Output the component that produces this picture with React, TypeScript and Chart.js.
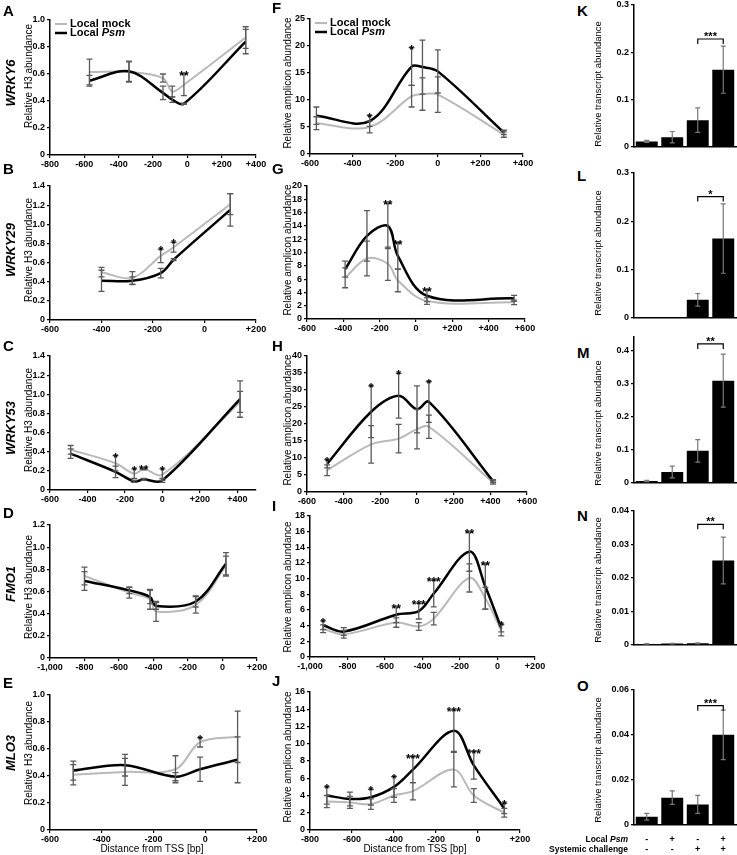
import React, { useEffect, useRef } from 'react';
import { Chart, registerables } from 'chart.js';
Chart.register(...registerables);

const FONT = '"Liberation Sans", Arial, Helvetica, sans-serif';
const GRAY = 'rgb(185,185,185)';
const ERRC = 'rgb(90,90,90)';

// ---------- tick arrays ----------
const X_A = [-800, -600, -400, -200, 0, 200, 400];
const X_B = [-600, -400, -200, 0, 200];
const X_C = [-600, -400, -200, 0, 200, 400];
const X_D = [-1000, -800, -600, -400, -200, 0, 200];
const X_E = [-600, -400, -200, 0, 200];
const X_F = [-600, -400, -200, 0, 200, 400];
const X_GH = [-600, -400, -200, 0, 200, 400, 600];
const X_I = [-1000, -800, -600, -400, -200, 0, 200];
const X_J = [-800, -600, -400, -200, 0, 200];

const Y_10 = [0, 0.2, 0.4, 0.6, 0.8, 1.0];
const Y_12 = [0, 0.2, 0.4, 0.6, 0.8, 1.0, 1.2];
const Y_14 = [0, 0.2, 0.4, 0.6, 0.8, 1.0, 1.2, 1.4];
const Y_F = [0, 5, 10, 15, 20, 25];
const Y_G = [0, 2, 4, 6, 8, 10, 12, 14, 16, 18, 20];
const Y_H = [0, 5, 10, 15, 20, 25, 30, 35, 40];
const Y_I = [0, 2, 4, 6, 8, 10, 12, 14, 16, 18];
const Y_J = [0, 2, 4, 6, 8, 10, 12, 14, 16];
const Y_KL = [0, 0.1, 0.2, 0.3];
const Y_M = [0, 0.1, 0.2, 0.3, 0.4];
const Y_N = [0, 0.01, 0.02, 0.03, 0.04];
const Y_O = [0, 0.02, 0.04, 0.06];

// ---------- A WRKY6 H3 ----------
const A_x = [-570, -340, -142, -88, -20, 340];
const A_mock = [0.615, 0.615, 0.57, 0.47, 0.52, 0.87];
const A_mockErr = [0.095, 0.075, 0.03, 0.04, 0.08, 0.08];
const A_psm = [0.55, 0.62, 0.46, 0.41, 0.38, 0.84];
const A_psmErr = [0.04, 0.075, 0.05, 0.02, 0.005, 0.09];
const A_stars = ['', '', '', '', '**', ''];
// ---------- B WRKY29 H3 ----------
const B_x = [-400, -280, -170, -120, 100];
const B_mock = [0.5, 0.44, 0.67, 0.76, 1.21];
const B_mockErr = [0.05, 0.065, 0.07, 0.05, 0.11];
const B_psm = [0.41, 0.41, 0.49, 0.63, 1.15];
const B_psmErr = [0.11, 0.04, 0.05, 0.01, 0.17];
const B_stars = ['', '', '*', '*', ''];
// ---------- C WRKY53 H3 ----------
const C_x = [-490, -250, -150, -100, 0, 415];
const C_mock = [0.42, 0.28, 0.17, 0.22, 0.16, 0.92];
const C_mockErr = [0.045, 0.08, 0.05, 0.01, 0.06, 0.11];
const C_psm = [0.38, 0.19, 0.09, 0.11, 0.1, 0.95];
const C_psmErr = [0.05, 0.06, 0.01, 0.01, 0.02, 0.19];
const C_stars = ['', '*', '*', '**', '*', ''];
// ---------- D FMO1 H3 ----------
const D_x = [-800, -540, -420, -385, -155, 20];
const D_mock = [0.74, 0.59, 0.53, 0.42, 0.48, 0.83];
const D_mockErr = [0.08, 0.05, 0.09, 0.09, 0.075, 0.09];
const D_psm = [0.695, 0.61, 0.55, 0.47, 0.51, 0.85];
const D_psmErr = [0.085, 0.03, 0.06, 0.03, 0.05, 0.1];
const D_stars = ['', '', '', '', '', ''];
// ---------- E MLO3 H3 ----------
const E_x = [-510, -310, -115, -20, 125];
const E_mock = [0.41, 0.43, 0.45, 0.65, 0.69];
const E_mockErr = [0.075, 0.1, 0.1, 0.035, 0.19];
const E_psm = [0.44, 0.48, 0.395, 0.45, 0.52];
const E_psmErr = [0.07, 0.08, 0.03, 0.09, 0.17];
const E_stars = ['', '', '', '*', ''];
// ---------- F WRKY6 amplicon ----------
const F_x = [-570, -320, -123, -72, 0, 310];
const F_mock = [5.7, 5.0, 10.7, 11.1, 11.0, 3.6];
const F_mockErr = [1.2, 1.1, 2.0, 3.0, 3.3, 0.5];
const F_psm = [7.1, 6.1, 16.2, 16.1, 15.3, 4.0];
const F_psmErr = [1.6, 1.0, 3.5, 5.0, 4.0, 0.4];
const F_stars = ['', '*', '*', '', '', ''];
// ---------- G WRKY29 amplicon ----------
const G_x = [-390, -270, -155, -100, 60, 540];
const G_mock = [6.2, 9.1, 8.3, 5.8, 2.7, 2.5];
const G_mockErr = [1.5, 2.6, 2.5, 1.7, 0.5, 0.35];
const G_psm = [7.5, 12.5, 14.0, 9.5, 3.5, 3.1];
const G_psmErr = [1.2, 3.8, 3.4, 2.0, 0.9, 0.45];
const G_stars = ['', '', '**', '**', '**', ''];
// ---------- H WRKY53 amplicon ----------
const H_x = [-490, -250, -100, 0, 65, 415];
const H_mock = [6.4, 14.0, 15.7, 18.5, 19.2, 2.8];
const H_mockErr = [1.6, 5.5, 4.2, 5.8, 3.4, 0.5];
const H_psm = [8.3, 23.6, 28.3, 24.3, 26.5, 3.2];
const H_psmErr = [1.2, 7.6, 6.6, 6.9, 6.0, 0.4];
const H_stars = ['*', '*', '*', '', '*', ''];
// ---------- I FMO1 amplicon ----------
const I_x = [-930, -820, -540, -420, -340, -150, -65, 20];
const I_mock = [3.6, 2.9, 4.4, 3.9, 4.9, 10.1, 7.5, 3.4];
const I_mockErr = [0.5, 0.5, 0.6, 0.5, 0.8, 1.8, 1.4, 0.7];
const I_psm = [4.05, 3.25, 5.4, 5.85, 8.1, 13.45, 9.0, 3.7];
const I_psmErr = [0.55, 0.5, 1.0, 1.0, 1.7, 2.5, 2.9, 0.5];
const I_stars = ['*', '', '**', '***', '***', '**', '**', '*'];
// ---------- J MLO3 amplicon ----------
const J_x = [-720, -610, -510, -400, -310, -115, -20, 125];
const J_mock = [3.3, 3.2, 3.0, 4.0, 4.5, 7.0, 4.0, 2.0];
const J_mockErr = [0.7, 0.7, 0.6, 0.8, 1.0, 2.0, 0.8, 0.5];
const J_psm = [4.0, 3.6, 3.8, 5.0, 7.0, 11.5, 7.5, 2.5];
const J_psmErr = [1.0, 0.8, 0.9, 1.2, 1.5, 2.4, 1.6, 0.6];
const J_stars = ['*', '', '*', '*', '***', '***', '***', '*'];

// ---------- bar panels K-O ----------
const BAR_CATS = ['1', '2', '3', '4'];
const K_vals = [0.011, 0.02, 0.056, 0.163];
const K_err = [0.002, 0.012, 0.026, 0.05];
const L_vals = [0.001, 0.001, 0.037, 0.164];
const L_err = [0, 0, 0.013, 0.072];
const M_vals = [0.005, 0.032, 0.096, 0.308];
const M_err = [0.002, 0.018, 0.034, 0.08];
const N_vals = [0.0002, 0.0003, 0.0004, 0.0252];
const N_err = [0.0001, 0.0001, 0.0001, 0.007];
const O_vals = [0.0035, 0.012, 0.009, 0.04];
const O_err = [0.0015, 0.003, 0.004, 0.011];
const K_sig = '***';
const L_sig = '*';
const M_sig = '**';
const N_sig = '**';
const O_sig = '***';
const K_brk = 0.228;
const L_brk = 0.251;
const M_brk = 0.419;
const N_brk = 0.036;
const O_brk = 0.053;
const O_localPsm = ['-', '+', '-', '+'];
const O_systemic = ['-', '-', '+', '+'];

// ---------- helpers ----------
const fmtX = (v: number) => (v > 0 ? '+' + v.toLocaleString('en-US') : v.toLocaleString('en-US'));
const fmtY = (dec: number) => (v: number) => (v === 0 ? '0' : Number(v).toFixed(dec));

const YW = 44;
const PT = 8;
const XH = 15;

const extras = {
  id: 'extras',
  afterDatasetsDraw(chart: any, _a: any, o: any) {
    const ctx = chart.ctx;
    const ys = chart.scales.y;
    ctx.save();
    const tops: number[][] = [];
    (o.errs || []).forEach((errs: number[], di: number) => {
      const meta = chart.getDatasetMeta(di);
      const ds = chart.data.datasets[di];
      meta.data.forEach((el: any, i: number) => {
        const raw = ds.data[i];
        const v = typeof raw === 'number' ? raw : raw.y;
        const e = errs[i] || 0;
        const yt = ys.getPixelForValue(v + e);
        tops[i] = tops[i] || [];
        tops[i].push(yt);
        if (!e) return;
        const yb = ys.getPixelForValue(Math.max(v - e, 0));
        const x = el.x;
        const cw = o.cap || 3;
        ctx.strokeStyle = o.errColor || ERRC;
        ctx.lineWidth = o.errWidth || 1.3;
        ctx.beginPath();
        ctx.moveTo(x, yt);
        ctx.lineTo(x, yb);
        ctx.moveTo(x - cw, yt);
        ctx.lineTo(x + cw, yt);
        ctx.moveTo(x - cw, yb);
        ctx.lineTo(x + cw, yb);
        ctx.stroke();
      });
    });
    if (o.stars) {
      const meta = chart.getDatasetMeta(0);
      ctx.fillStyle = '#000';
      ctx.font = 'bold 12px ' + FONT;
      ctx.textAlign = 'center';
      ctx.textBaseline = 'alphabetic';
      o.stars.forEach((s: string, i: number) => {
        if (!s) return;
        const x = meta.data[i].x;
        const t = Math.min(...(tops[i] || [ys.bottom]));
        ctx.fillText(s, x, t + 6);
      });
    }
    if (o.bracket) {
      const meta = chart.getDatasetMeta(0);
      const x1 = meta.data[o.bracket.from].x;
      const x2 = meta.data[o.bracket.to].x;
      const y = ys.getPixelForValue(o.bracket.value);
      ctx.strokeStyle = '#000';
      ctx.lineWidth = 1.2;
      ctx.beginPath();
      ctx.moveTo(x1, y + 5);
      ctx.lineTo(x1, y);
      ctx.lineTo(x2, y);
      ctx.lineTo(x2, y + 5);
      ctx.stroke();
      ctx.fillStyle = '#000';
      ctx.font = 'bold 11px ' + FONT;
      ctx.textAlign = 'center';
      ctx.textBaseline = 'alphabetic';
      ctx.fillText(o.bracket.text, (x1 + x2) / 2, y + 1);
    }
    if (o.legend) {
      const { left, top } = chart.chartArea;
      const rows = [
        { c: GRAY, w: 2, a: 'Local ', b: 'mock', it: false, dy: 4 },
        { c: '#000', w: 2.5, a: 'Local ', b: 'Psm', it: true, dy: 13 },
      ];
      rows.forEach((r) => {
        ctx.strokeStyle = r.c;
        ctx.lineWidth = r.w;
        ctx.beginPath();
        ctx.moveTo(left + 5, top + r.dy);
        ctx.lineTo(left + 17, top + r.dy);
        ctx.stroke();
        ctx.fillStyle = '#000';
        ctx.textAlign = 'left';
        ctx.textBaseline = 'middle';
        ctx.font = 'bold 11px ' + FONT;
        ctx.fillText(r.a, left + 20, top + r.dy);
        const w = ctx.measureText(r.a).width;
        ctx.font = (r.it ? 'italic ' : '') + 'bold 11px ' + FONT;
        ctx.fillText(r.b, left + 20 + w, top + r.dy);
      });
    }
    ctx.restore();
  },
};

const tickFont = { family: FONT, size: 9, weight: 'bold' as const };
const axisGrid = { display: true, drawOnChartArea: false, drawTicks: true, tickLength: 3, color: '#000', lineWidth: 1.2 };
const axisBorder = { display: true, color: '#000', width: 1.5 };

type LineSpec = {
  L: number; T: number; R: number; B: number;
  xMin: number; xMax: number; xTicks: number[];
  yMax: number; yTicks: number[]; yDec: number;
  x: number[]; mock: number[]; mockErr: number[]; psm: number[]; psmErr: number[]; stars: string[];
  legend?: boolean;
};

function LinePanel({ s }: { s: LineSpec }) {
  const ref = useRef<HTMLCanvasElement>(null);
  const PR = 22;
  const W = s.R - s.L + YW + PR;
  const H = s.B - s.T + PT + XH;
  useEffect(() => {
    const chart = new Chart(ref.current as HTMLCanvasElement, {
      type: 'line',
      data: {
        datasets: [
          { label: 'Local mock', data: s.x.map((x, i) => ({ x, y: s.mock[i] })), borderColor: GRAY, borderWidth: 2, pointRadius: 0, tension: 0.35, fill: false, order: 2 },
          { label: 'Local Psm', data: s.x.map((x, i) => ({ x, y: s.psm[i] })), borderColor: '#000', borderWidth: 2.5, pointRadius: 0, tension: 0.35, fill: false, order: 1 },
        ],
      },
      options: {
        responsive: false,
        animation: false,
        events: [],
        layout: { padding: { top: PT, right: PR, left: 0, bottom: 0 } },
        plugins: {
          legend: { display: false },
          tooltip: { enabled: false },
          extras: { errs: [s.mockErr, s.psmErr], stars: s.stars, legend: s.legend, cap: 3 },
        } as any,
        scales: {
          x: {
            type: 'linear', min: s.xMin, max: s.xMax,
            afterBuildTicks: (sc: any) => { sc.ticks = s.xTicks.map((v) => ({ value: v })); },
            afterFit: (sc: any) => { sc.height = XH; },
            ticks: { callback: (v: any) => fmtX(Number(v)), font: tickFont, color: '#000', padding: 1, maxRotation: 0, autoSkip: false },
            grid: axisGrid, border: axisBorder,
          },
          y: {
            type: 'linear', min: 0, max: s.yMax,
            afterBuildTicks: (sc: any) => { sc.ticks = s.yTicks.map((v) => ({ value: v })); },
            afterFit: (sc: any) => { sc.width = YW; },
            ticks: { callback: (v: any) => fmtY(s.yDec)(Number(v)), font: tickFont, color: '#000', padding: 2, autoSkip: false },
            grid: axisGrid, border: axisBorder,
          },
        } as any,
      },
      plugins: [extras as any],
    });
    return () => chart.destroy();
  }, []);
  return <canvas ref={ref} width={W} height={H} style={{ position: 'absolute', left: s.L - YW, top: s.T - PT }} />;
}

type BarSpec = {
  L: number; T: number; R: number; B: number;
  yMax: number; yTicks: number[]; yDec: number;
  vals: number[]; err: number[]; sig: string; brk: number;
};

function BarPanel({ s }: { s: BarSpec }) {
  const ref = useRef<HTMLCanvasElement>(null);
  const PR = 1;
  const XHB = 2;
  const W = s.R - s.L + YW + PR;
  const H = s.B - s.T + PT + XHB;
  useEffect(() => {
    const chart = new Chart(ref.current as HTMLCanvasElement, {
      type: 'bar',
      data: {
        labels: BAR_CATS,
        datasets: [{ data: s.vals, backgroundColor: '#000', barPercentage: 0.86, categoryPercentage: 1.0 }],
      },
      options: {
        responsive: false,
        animation: false,
        events: [],
        layout: { padding: { top: PT, right: PR, left: 0, bottom: 0 } },
        plugins: {
          legend: { display: false },
          tooltip: { enabled: false },
          extras: { errs: [s.err], bracket: { from: 2, to: 3, value: s.brk, text: s.sig }, cap: 2.5, errColor: 'rgb(120,120,120)', errWidth: 1.2 },
        } as any,
        scales: {
          x: {
            type: 'category',
            afterFit: (sc: any) => { sc.height = XHB; },
            ticks: { display: false },
            grid: { display: false },
            border: axisBorder,
          },
          y: {
            type: 'linear', min: 0, max: s.yMax,
            afterBuildTicks: (sc: any) => { sc.ticks = s.yTicks.map((v) => ({ value: v })); },
            afterFit: (sc: any) => { sc.width = YW; },
            ticks: { callback: (v: any) => fmtY(s.yDec)(Number(v)), font: tickFont, color: '#000', padding: 2, autoSkip: false },
            grid: axisGrid, border: axisBorder,
          },
        } as any,
      },
      plugins: [extras as any],
    });
    return () => chart.destroy();
  }, []);
  return <canvas ref={ref} width={W} height={H} style={{ position: 'absolute', left: s.L - YW, top: s.T - PT }} />;
}

const VText = ({ x, y, text, size = 10, bold = false, italic = false }: any) => (
  <div style={{ position: 'absolute', left: x, top: y, transform: 'translate(-50%,-50%) rotate(-90deg)', whiteSpace: 'nowrap', fontFamily: FONT, fontSize: size, fontWeight: bold ? 'bold' : 'normal', fontStyle: italic ? 'italic' : 'normal', lineHeight: 1, color: '#000' }}>{text}</div>
);
const Letter = ({ x, y, t }: any) => (
  <div style={{ position: 'absolute', left: x, top: y, fontFamily: FONT, fontSize: 15, fontWeight: 'bold', lineHeight: 1, color: '#000' }}>{t}</div>
);
const HText = ({ x, y, text, size = 10, bold = false, align = 'center', children }: any) => (
  <div style={{ position: 'absolute', left: x, top: y, transform: align === 'center' ? 'translate(-50%,-50%)' : align === 'right' ? 'translate(-100%,-50%)' : 'translate(0,-50%)', whiteSpace: 'nowrap', fontFamily: FONT, fontSize: size, fontWeight: bold ? 'bold' : 'normal', lineHeight: 1, color: '#000' }}>{children ?? text}</div>
);

const linePanels: LineSpec[] = [
  { L: 50, T: 20, R: 256, B: 155, xMin: -800, xMax: 400, xTicks: X_A, yMax: 1.0, yTicks: Y_10, yDec: 1, x: A_x, mock: A_mock, mockErr: A_mockErr, psm: A_psm, psmErr: A_psmErr, stars: A_stars, legend: true },
  { L: 50, T: 186, R: 256, B: 320, xMin: -600, xMax: 200, xTicks: X_B, yMax: 1.4, yTicks: Y_14, yDec: 1, x: B_x, mock: B_mock, mockErr: B_mockErr, psm: B_psm, psmErr: B_psmErr, stars: B_stars },
  { L: 50, T: 356, R: 256, B: 490, xMin: -600, xMax: 500, xTicks: X_C, yMax: 1.4, yTicks: Y_14, yDec: 1, x: C_x, mock: C_mock, mockErr: C_mockErr, psm: C_psm, psmErr: C_psmErr, stars: C_stars },
  { L: 50, T: 525, R: 257, B: 658, xMin: -1000, xMax: 200, xTicks: X_D, yMax: 1.2, yTicks: Y_12, yDec: 1, x: D_x, mock: D_mock, mockErr: D_mockErr, psm: D_psm, psmErr: D_psmErr, stars: D_stars },
  { L: 50, T: 695, R: 257, B: 830, xMin: -600, xMax: 200, xTicks: X_E, yMax: 1.0, yTicks: Y_10, yDec: 1, x: E_x, mock: E_mock, mockErr: E_mockErr, psm: E_psm, psmErr: E_psmErr, stars: E_stars },
  { L: 310, T: 19, R: 523, B: 154, xMin: -600, xMax: 400, xTicks: X_F, yMax: 25, yTicks: Y_F, yDec: 0, x: F_x, mock: F_mock, mockErr: F_mockErr, psm: F_psm, psmErr: F_psmErr, stars: F_stars, legend: true },
  { L: 307, T: 186, R: 525, B: 319, xMin: -600, xMax: 600, xTicks: X_GH, yMax: 20, yTicks: Y_G, yDec: 0, x: G_x, mock: G_mock, mockErr: G_mockErr, psm: G_psm, psmErr: G_psmErr, stars: G_stars },
  { L: 307, T: 356, R: 527, B: 492, xMin: -600, xMax: 600, xTicks: X_GH, yMax: 40, yTicks: Y_H, yDec: 0, x: H_x, mock: H_mock, mockErr: H_mockErr, psm: H_psm, psmErr: H_psmErr, stars: H_stars },
  { L: 310, T: 516, R: 535, B: 657, xMin: -1000, xMax: 200, xTicks: X_I, yMax: 18, yTicks: Y_I, yDec: 0, x: I_x, mock: I_mock, mockErr: I_mockErr, psm: I_psm, psmErr: I_psmErr, stars: I_stars },
  { L: 310, T: 692, R: 520, B: 830, xMin: -800, xMax: 200, xTicks: X_J, yMax: 16, yTicks: Y_J, yDec: 0, x: J_x, mock: J_mock, mockErr: J_mockErr, psm: J_psm, psmErr: J_psmErr, stars: J_stars },
];

const barPanels: BarSpec[] = [
  { L: 634, T: 5, R: 736, B: 152, yMax: 0.3, yTicks: Y_KL, yDec: 1, vals: K_vals, err: K_err, sig: K_sig, brk: K_brk },
  { L: 634, T: 173, R: 736, B: 323, yMax: 0.3, yTicks: Y_KL, yDec: 1, vals: L_vals, err: L_err, sig: L_sig, brk: L_brk },
  { L: 634, T: 337, R: 736, B: 488, yMax: 0.44, yTicks: Y_M, yDec: 1, vals: M_vals, err: M_err, sig: M_sig, brk: M_brk },
  { L: 634, T: 511, R: 736, B: 650, yMax: 0.04, yTicks: Y_N, yDec: 2, vals: N_vals, err: N_err, sig: N_sig, brk: N_brk },
  { L: 634, T: 690, R: 736, B: 830, yMax: 0.06, yTicks: Y_O, yDec: 2, vals: O_vals, err: O_err, sig: O_sig, brk: O_brk },
];

const genes = [
  { t: 'WRKY6', y: 83 },
  { t: 'WRKY29', y: 250 },
  { t: 'WRKY53', y: 428 },
  { t: 'FMO1', y: 584 },
  { t: 'MLO3', y: 753 },
];
const h3Title = [76, 250, 420, 587, 753];
const ampTitle = [83, 250, 420, 587, 757];
const trTitle = [84, 253, 423, 580, 760];
const letters = [
  ['A', 3, 3], ['B', 3, 161], ['C', 3, 338], ['D', 3, 505], ['E', 3, 675],
  ['F', 272, 0], ['G', 272, 161], ['H', 272, 338], ['I', 272, 498], ['J', 272, 673],
  ['K', 577, 3], ['L', 577, 168], ['M', 577, 345], ['N', 577, 508], ['O', 577, 678],
];

export default function App() {
  return (
    <div style={{ position: 'absolute', left: 0, top: 0, width: 737, height: 855, background: '#fff', overflow: 'hidden' }}>
      {linePanels.map((s, i) => <LinePanel key={'l' + i} s={s} />)}
      {barPanels.map((s, i) => <BarPanel key={'b' + i} s={s} />)}
      {letters.map(([t, x, y]) => <Letter key={t as string} t={t} x={x} y={y} />)}
      {genes.map((g) => <VText key={g.t} x={10} y={g.y} text={g.t} size={13} bold italic />)}
      {h3Title.map((y, i) => <VText key={'h' + i} x={29} y={y} text="Relative H3 abundance" size={10} />)}
      {ampTitle.map((y, i) => <VText key={'a' + i} x={288} y={y} text="Relative amplicon abundance" size={10} />)}
      {trTitle.map((y, i) => <VText key={'t' + i} x={598} y={y} text="Relative transcript abundance" size={9.5} />)}
      <HText x={152} y={849} text="Distance from TSS [bp]" size={10} />
      <HText x={415} y={849} text="Distance from TSS [bp]" size={10} />
      <HText x={628} y={839} size={8.5} bold align="right">Local <i>Psm</i></HText>
      <HText x={628} y={849} size={8.5} bold align="right" text="Systemic challenge" />
      {O_localPsm.map((t, i) => <HText key={'lp' + i} x={646.75 + 25.5 * i} y={839} size={9} bold text={t} />)}
      {O_systemic.map((t, i) => <HText key={'sy' + i} x={646.75 + 25.5 * i} y={849} size={9} bold text={t} />)}
    </div>
  );
}
